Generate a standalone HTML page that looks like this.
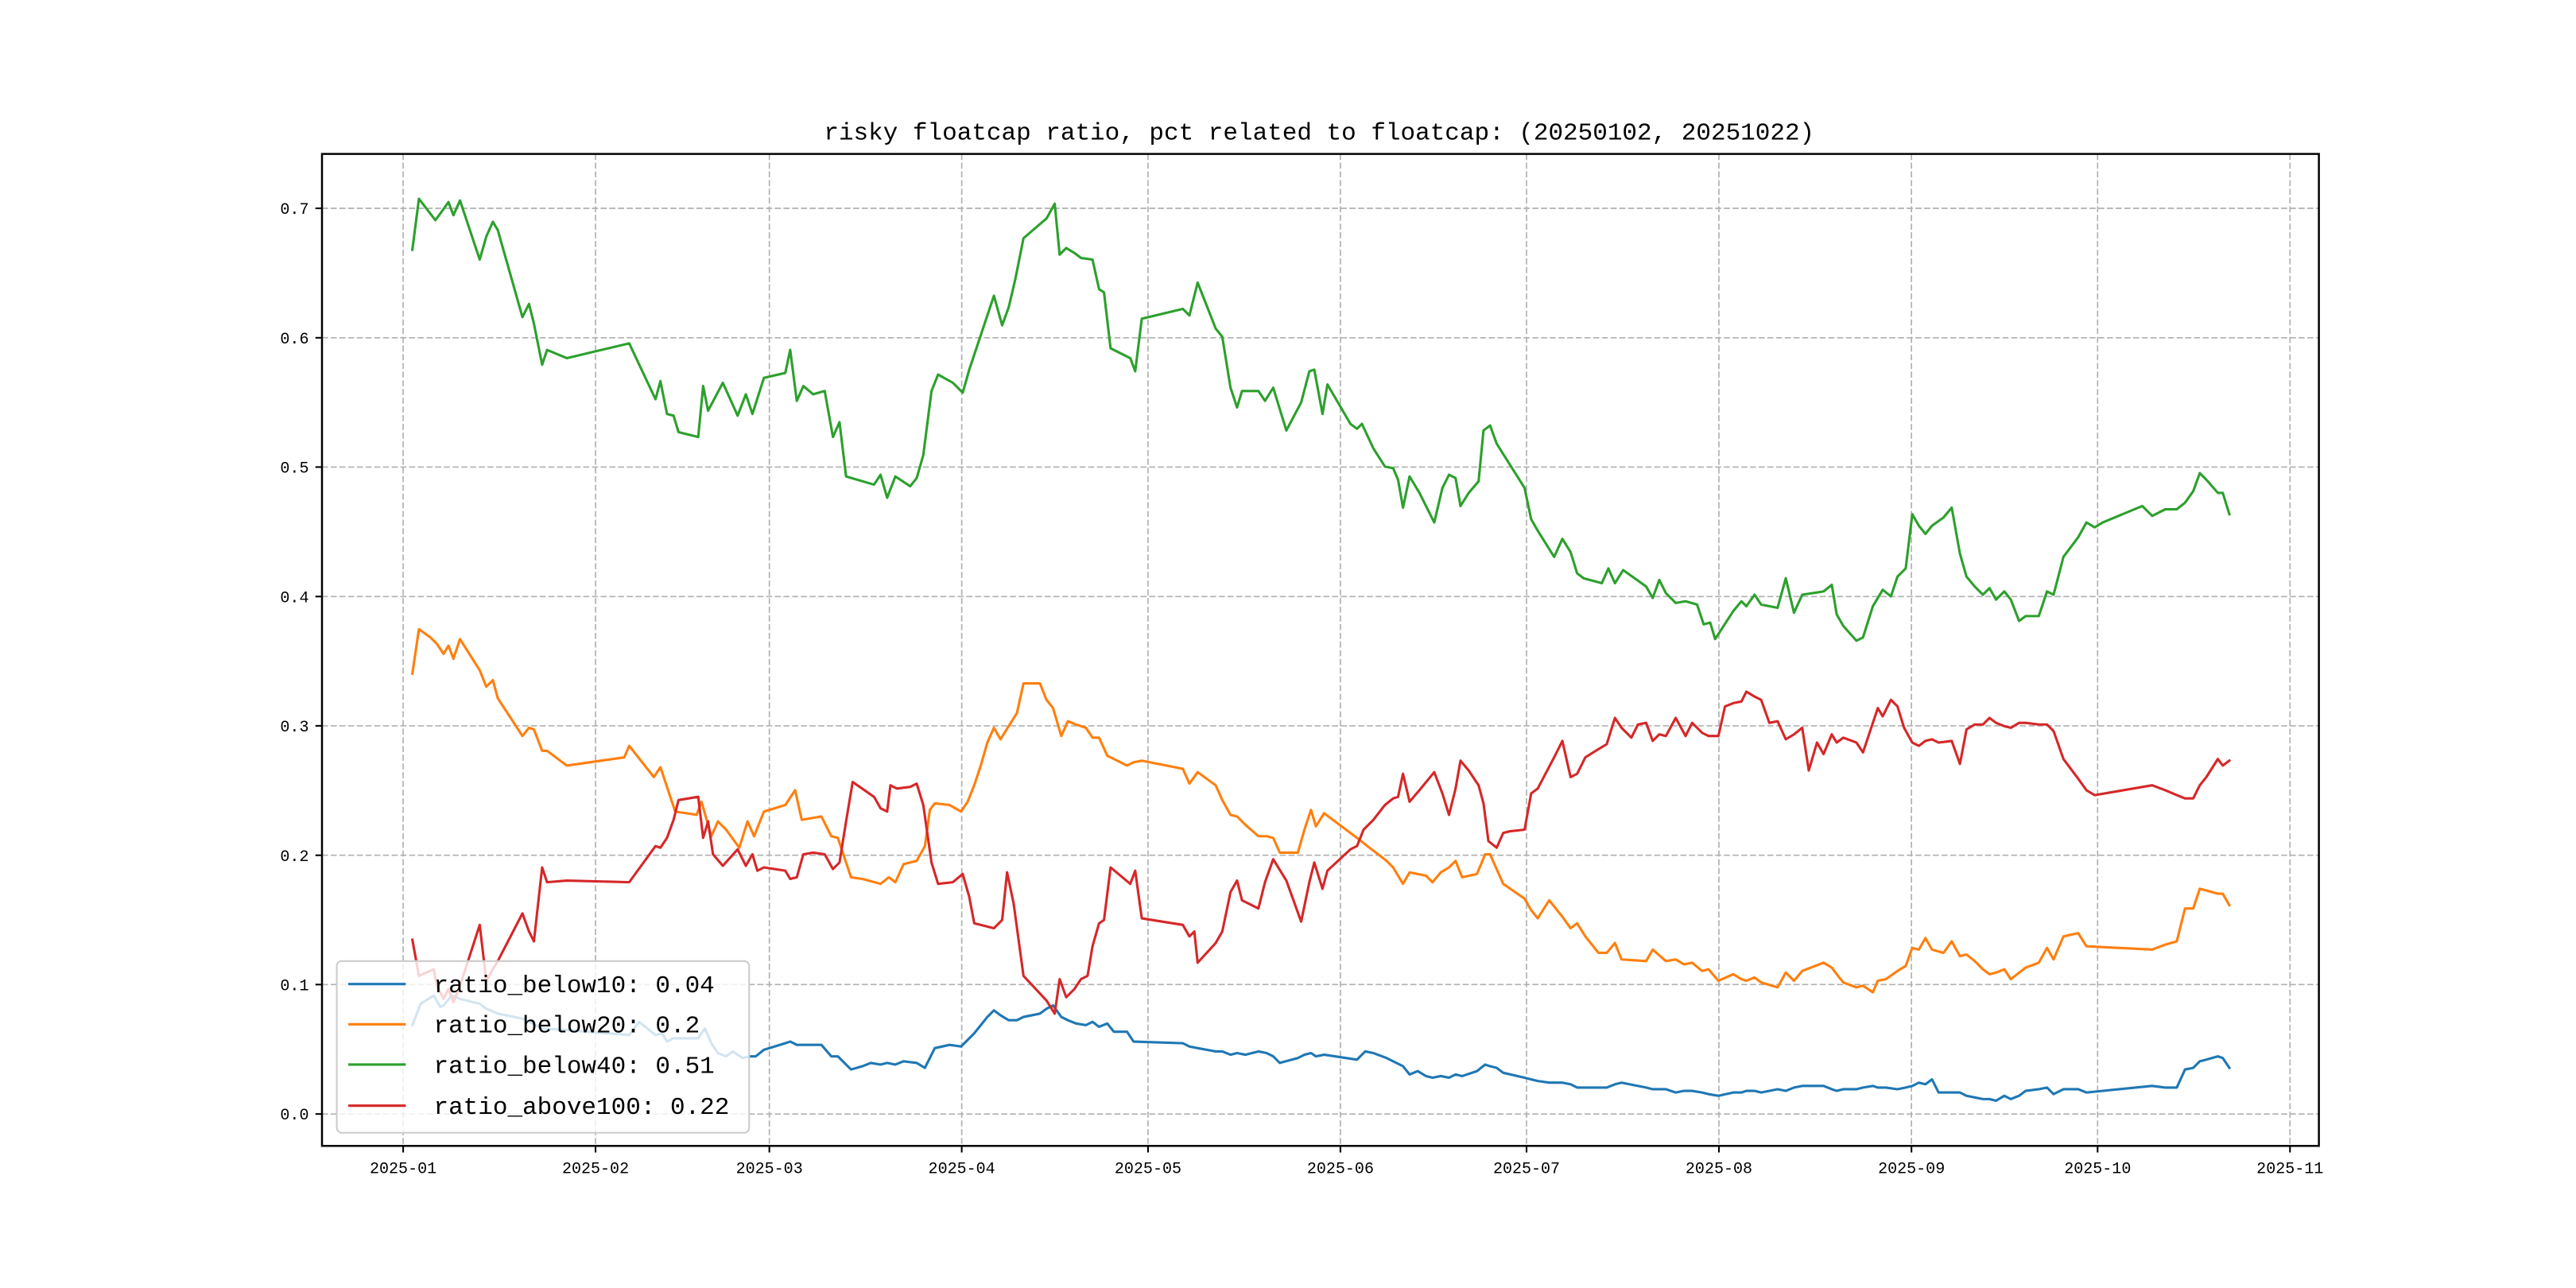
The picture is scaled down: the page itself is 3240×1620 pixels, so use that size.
<!DOCTYPE html>
<html><head><meta charset="utf-8"><style>html,body{margin:0;padding:0;background:#fff}svg{display:block}</style></head>
<body>
<svg width="3240" height="1620" viewBox="0 0 1568 784" xmlns="http://www.w3.org/2000/svg">
<rect width="1568" height="784" fill="#fff"/>
<g stroke="#b0b0b0" stroke-width="0.8" stroke-dasharray="3.7,1.6" fill="none">
<line x1="245.4" y1="93.7" x2="245.4" y2="697.5"/><line x1="362.5" y1="93.7" x2="362.5" y2="697.5"/><line x1="468.3" y1="93.7" x2="468.3" y2="697.5"/><line x1="585.4" y1="93.7" x2="585.4" y2="697.5"/><line x1="698.8" y1="93.7" x2="698.8" y2="697.5"/><line x1="815.9" y1="93.7" x2="815.9" y2="697.5"/><line x1="929.2" y1="93.7" x2="929.2" y2="697.5"/><line x1="1046.3" y1="93.7" x2="1046.3" y2="697.5"/><line x1="1163.5" y1="93.7" x2="1163.5" y2="697.5"/><line x1="1276.8" y1="93.7" x2="1276.8" y2="697.5"/><line x1="1393.9" y1="93.7" x2="1393.9" y2="697.5"/>
<line x1="196" y1="678.1" x2="1411.5" y2="678.1"/><line x1="196" y1="599.3" x2="1411.5" y2="599.3"/><line x1="196" y1="520.6" x2="1411.5" y2="520.6"/><line x1="196" y1="441.8" x2="1411.5" y2="441.8"/><line x1="196" y1="363.1" x2="1411.5" y2="363.1"/><line x1="196" y1="284.3" x2="1411.5" y2="284.3"/><line x1="196" y1="205.6" x2="1411.5" y2="205.6"/><line x1="196" y1="126.8" x2="1411.5" y2="126.8"/>
</g>
<g fill="none" stroke-width="1.5" stroke-linejoin="round" stroke-linecap="square">
<polyline stroke="#1f77b4" points="251,624 256,611 264,606 268,613 270,612 275,606 280,608 292,611 296,614 303,617 318,620 330,626 345,627 383,630 389,622 399,630 403,629 406,634 410,632 425,632 429,626 433,635 437,641 442,643 446,640 452,644 456,643 460,643 465,639 478,635 481,634 485,636 489,636 500,636 506,643 510,643 518,651 525,649 530,647 536,648 540,647 545,648 550,646 558,647 563,650 566,644 569,638 578,636 585,637 589,633 593,629 597,624 601,619 605,615 609,618 614,621 619,621 623,619 633,617 637,614 641,612 646,619 650,621 655,623 661,624 665,622 669,625 674,623 678,628 686,628 690,634 720,635 724,637 729,638 740,640 744,640 749,642 753,641 758,642 766,640 771,641 775,643 779,647 790,644 794,642 798,641 801,643 806,642 826,645 831,640 836,641 844,644 848,646 854,649 858,654 863,652 868,655 872,656 877,655 882,656 886,654 890,655 899,652 904,648 907,649 911,650 915,653 928,656 932,657 936,658 943,659 951,659 956,660 960,662 965,662 973,662 978,662 983,660 987,659 1002,662 1006,663 1014,663 1020,665 1025,664 1030,664 1036,665 1040,666 1046,667 1055,665 1060,665 1063,664 1068,664 1072,665 1082,663 1087,664 1092,662 1097,661 1110,661 1115,663 1118,664 1122,663 1130,663 1134,662 1140,661 1143,662 1148,662 1155,663 1160,662 1164,661 1168,659 1172,660 1176,657 1180,665 1188,665 1193,665 1197,667 1202,668 1207,669 1211,669 1215,670 1220,667 1224,669 1229,667 1233,664 1241,663 1246,662 1250,666 1256,663 1265,663 1270,665 1310,661 1318,662 1325,662 1330,651 1335,650 1339,646 1343,645 1350,643 1353,644 1357,650"/>
<polyline stroke="#ff7f0e" points="251,410 255,383 262,388 266,392 270,398 273,393 276,401 280,389 292,408 296,418 300,414 303,425 318,448 322,443 325,444 330,457 333,457 345,466 380,461 383,454 398,473 402,467 411,494 424,496 427,488 433,509 437,500 442,505 450,516 455,500 459,509 465,494 478,490 484,481 488,499 500,497 506,509 510,510 518,534 525,535 536,538 541,534 545,537 550,526 558,524 563,515 566,493 569,489 578,490 585,494 589,488 593,478 597,466 601,452 605,443 609,450 614,442 619,434 623,416 633,416 637,426 641,431 646,448 650,439 655,441 661,443 665,449 669,449 674,460 686,466 690,464 695,463 720,468 724,477 729,470 740,478 744,487 749,496 753,497 758,502 766,509 771,509 775,510 779,519 790,519 794,505 798,493 801,503 806,495 826,510 831,514 844,524 848,528 854,538 858,531 868,533 872,537 877,531 882,528 886,524 890,534 899,532 904,520 907,520 911,529 915,538 928,547 932,554 936,559 943,548 951,558 956,565 960,562 965,570 973,580 978,580 983,574 987,584 1002,585 1006,578 1014,585 1020,584 1025,587 1030,586 1036,591 1040,590 1046,597 1055,593 1060,596 1063,597 1068,595 1072,598 1082,601 1087,592 1092,597 1097,591 1110,586 1115,589 1118,593 1122,598 1130,601 1134,600 1140,604 1143,597 1148,596 1155,591 1160,588 1164,577 1168,578 1172,571 1176,578 1183,580 1188,573 1193,582 1197,581 1202,585 1207,590 1211,593 1215,592 1220,590 1224,596 1233,589 1241,586 1246,577 1250,584 1256,570 1265,568 1270,576 1310,578 1318,575 1325,573 1330,553 1335,553 1339,541 1343,542 1350,544 1353,544 1357,551"/>
<polyline stroke="#2ca02c" points="251,152 255,121 265,134 268,130 273,123 276,131 280,122 292,158 296,144 300,135 303,140 318,193 322,185 325,197 330,222 333,213 345,218 383,209 399,243 402,232 406,252 410,253 413,263 425,266 428,235 431,250 440,233 449,253 454,240 458,252 465,230 478,227 481,213 485,244 489,235 495,240 502,238 507,266 511,257 515,290 532,295 536,289 540,303 545,290 554,296 558,291 562,277 567,238 571,228 580,233 586,239 590,225 605,180 610,198 614,187 618,170 623,145 637,133 642,124 645,155 649,151 654,154 658,157 665,158 669,176 672,178 676,212 688,218 691,226 695,194 720,188 724,192 729,172 740,200 744,205 749,236 753,248 756,238 766,238 770,244 775,236 783,262 792,245 797,226 800,225 805,252 808,234 822,258 826,261 829,258 836,273 843,284 848,285 851,292 854,309 858,290 864,300 873,318 878,297 882,289 886,291 889,308 894,300 900,293 903,262 907,259 911,270 928,297 932,316 936,323 946,339 951,328 956,336 960,349 964,352 975,355 979,346 983,355 988,347 1002,357 1006,364 1010,353 1014,361 1020,367 1026,366 1033,368 1037,380 1041,379 1044,389 1055,372 1060,366 1063,369 1068,362 1072,368 1082,370 1087,352 1092,373 1097,362 1110,360 1115,356 1118,374 1122,381 1130,390 1134,388 1140,369 1143,364 1146,359 1151,363 1155,351 1160,346 1164,313 1168,320 1172,325 1176,320 1183,315 1188,309 1193,337 1197,351 1202,357 1207,362 1211,358 1215,365 1220,360 1224,365 1229,378 1233,375 1241,375 1246,360 1250,362 1256,339 1265,327 1270,318 1275,321 1280,318 1304,308 1310,314 1318,310 1325,310 1330,306 1335,299 1339,288 1343,292 1350,300 1353,300 1357,313"/>
<polyline stroke="#d62728" points="251,572 255,594 264,590 266,600 270,608 273,602 276,610 280,600 292,563 296,597 300,590 303,585 318,556 322,567 325,573 330,528 333,537 345,536 383,537 399,515 402,516 406,510 410,499 413,487 425,485 428,510 431,500 434,520 440,527 449,517 454,527 458,520 461,530 465,528 478,530 481,535 485,534 489,520 495,519 502,520 507,529 511,525 515,500 519,476 532,485 536,492 540,494 542,478 546,480 554,479 558,477 562,490 567,525 571,538 580,537 586,532 590,546 593,562 605,565 610,560 613,531 617,550 623,594 637,609 642,617 645,596 649,607 654,602 658,596 662,594 665,576 669,562 672,560 676,528 688,538 691,530 695,559 720,563 724,570 727,567 729,586 740,574 744,567 749,543 753,536 756,548 766,553 770,537 775,523 783,536 792,561 797,537 800,525 805,541 808,530 822,517 826,515 830,505 836,499 843,490 848,486 851,485 854,471 858,488 864,481 873,470 878,483 882,496 886,480 889,463 894,469 900,478 903,489 906,512 911,516 915,507 919,506 928,505 932,483 936,480 946,461 951,451 956,473 960,471 965,461 973,456 978,453 983,437 987,443 993,449 997,441 1002,440 1006,451 1010,447 1014,448 1020,437 1026,448 1030,440 1036,446 1040,448 1046,448 1050,430 1055,428 1060,427 1063,421 1068,424 1072,426 1077,440 1082,439 1087,450 1092,447 1097,443 1101,469 1106,452 1110,459 1115,447 1118,452 1122,449 1130,452 1134,458 1140,440 1143,431 1146,436 1151,426 1155,430 1159,443 1164,452 1168,454 1172,451 1176,450 1180,452 1188,451 1193,465 1197,444 1202,441 1207,441 1211,437 1215,440 1220,442 1224,443 1229,440 1233,440 1241,441 1246,441 1250,445 1256,462 1265,474 1270,481 1275,484 1310,478 1318,481 1325,484 1330,486 1335,486 1339,478 1343,473 1350,462 1353,466 1357,463"/>
</g>
<rect x="196" y="93.7" width="1215.5" height="603.8" fill="none" stroke="#000" stroke-width="1.2"/>
<g stroke="#000" stroke-width="1">
<line x1="245.4" y1="697.5" x2="245.4" y2="701.5"/><line x1="362.5" y1="697.5" x2="362.5" y2="701.5"/><line x1="468.3" y1="697.5" x2="468.3" y2="701.5"/><line x1="585.4" y1="697.5" x2="585.4" y2="701.5"/><line x1="698.8" y1="697.5" x2="698.8" y2="701.5"/><line x1="815.9" y1="697.5" x2="815.9" y2="701.5"/><line x1="929.2" y1="697.5" x2="929.2" y2="701.5"/><line x1="1046.3" y1="697.5" x2="1046.3" y2="701.5"/><line x1="1163.5" y1="697.5" x2="1163.5" y2="701.5"/><line x1="1276.8" y1="697.5" x2="1276.8" y2="701.5"/><line x1="1393.9" y1="697.5" x2="1393.9" y2="701.5"/>
<line x1="192" y1="678.1" x2="196" y2="678.1"/><line x1="192" y1="599.3" x2="196" y2="599.3"/><line x1="192" y1="520.6" x2="196" y2="520.6"/><line x1="192" y1="441.8" x2="196" y2="441.8"/><line x1="192" y1="363.1" x2="196" y2="363.1"/><line x1="192" y1="284.3" x2="196" y2="284.3"/><line x1="192" y1="205.6" x2="196" y2="205.6"/><line x1="192" y1="126.8" x2="196" y2="126.8"/>
</g>
<g font-family="'Liberation Mono', monospace" font-size="9.7" fill="#000" text-anchor="middle">
<text x="245.4" y="714">2025-01</text><text x="362.5" y="714">2025-02</text><text x="468.3" y="714">2025-03</text><text x="585.4" y="714">2025-04</text><text x="698.8" y="714">2025-05</text><text x="815.9" y="714">2025-06</text><text x="929.2" y="714">2025-07</text><text x="1046.3" y="714">2025-08</text><text x="1163.5" y="714">2025-09</text><text x="1276.8" y="714">2025-10</text><text x="1393.9" y="714">2025-11</text>
</g>
<g font-family="'Liberation Mono', monospace" font-size="9.7" fill="#000" text-anchor="end">
<text x="188" y="681.5">0.0</text><text x="188" y="602.7">0.1</text><text x="188" y="524">0.2</text><text x="188" y="445.2">0.3</text><text x="188" y="366.5">0.4</text><text x="188" y="287.7">0.5</text><text x="188" y="209">0.6</text><text x="188" y="130.2">0.7</text>
</g>
<text x="803" y="85" font-family="'Liberation Mono', monospace" font-size="15" text-anchor="middle" fill="#000">risky floatcap ratio, pct related to floatcap: (20250102, 20251022)</text>
<rect x="205" y="585" width="251" height="104.5" rx="3" fill="#fff" fill-opacity="0.8" stroke="#cccccc" stroke-width="1"/>
<g stroke-width="1.5">
<line x1="212" y1="599" x2="247" y2="599" stroke="#1f77b4"/>
<line x1="212" y1="623.5" x2="247" y2="623.5" stroke="#ff7f0e"/>
<line x1="212" y1="648" x2="247" y2="648" stroke="#2ca02c"/>
<line x1="212" y1="673" x2="247" y2="673" stroke="#d62728"/>
</g>
<g font-family="'Liberation Mono', monospace" font-size="15" fill="#000">
<text x="264" y="604">ratio_below10: 0.04</text>
<text x="264" y="628.5">ratio_below20: 0.2</text>
<text x="264" y="653">ratio_below40: 0.51</text>
<text x="264" y="678">ratio_above100: 0.22</text>
</g>
</svg>
</body></html>
